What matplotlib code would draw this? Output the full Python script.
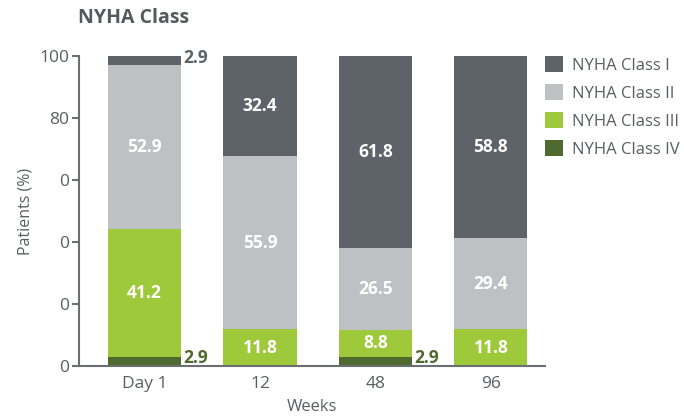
import matplotlib.pyplot as plt
import numpy as np

plt.rcParams['font.family'] = ['Open Sans', 'DejaVu Sans']

# NYHA class distribution per visit (% of patients)
visits = ["Day 1", "12", "48", "96"]
class_iv = [2.9, 0.0, 2.9, 0.0]
class_iii = [41.2, 11.8, 8.8, 11.8]
class_ii = [52.9, 55.9, 26.5, 29.4]
class_i = [2.9, 32.4, 61.8, 58.8]
ytick_vals = [0, 20, 40, 60, 80, 100]
ytick_text = ["0", "0", "0", "0", "80", "100"]

col_i = "#5e6269"
col_ii = "#bfc0c4"
col_iii = "#9dc93b"
col_iv = "#4f6a2e"
txt = "#5a5d62"

fig = plt.figure(figsize=(6.84, 4.18), dpi=100)
ax = fig.add_axes([0.1155, 0.1244, 0.6815, 0.7416])

x = np.arange(len(visits))
w = 0.633
series = [("NYHA Class I", class_i, col_i),
          ("NYHA Class II", class_ii, col_ii),
          ("NYHA Class III", class_iii, col_iii),
          ("NYHA Class IV", class_iv, col_iv)]

# stack from class IV at the bottom up to class I
bottom = np.zeros(len(visits))
stacks = {}
for name, vals, c in reversed(series):
    vals = np.array(vals)
    ax.bar(x, vals, w, bottom=bottom, color=c, label=name, linewidth=0)
    stacks[name] = (vals, bottom.copy())
    bottom += vals

# white value labels inside the larger segments
for name in ["NYHA Class I", "NYHA Class II", "NYHA Class III"]:
    vals, bot = stacks[name]
    for xi, v, b in zip(x, vals, bot):
        if v > 5:
            ax.text(xi, b + v / 2, f"{v:.1f}", ha="center", va="center",
                    color="white", fontsize=12.5, fontweight="bold")

# small segments labelled beside the bar
for name, c in [("NYHA Class I", col_i), ("NYHA Class IV", col_iv)]:
    vals, bot = stacks[name]
    for xi, v, b in zip(x, vals, bot):
        if 0 < v <= 5:
            ax.text(xi + w / 2 + 0.02, b + v / 2 + 1.0, f"{v:.1f}", ha="left",
                    va="center", color=c, fontsize=12.5, fontweight="bold")

ax.set_xlim(-0.568, 3.47)
ax.set_ylim(0, 100)
ax.set_xticks(x)
ax.set_xticklabels(visits)
ax.set_yticks(ytick_vals)
ax.set_yticklabels(ytick_text)
ax.tick_params(axis="y", length=5, width=1.5, color="#6b6e73", labelsize=12.5,
               labelcolor=txt, pad=2)
ax.tick_params(axis="x", length=0, labelsize=12.5, labelcolor=txt, pad=7)
for s in ["top", "right"]:
    ax.spines[s].set_visible(False)
for s in ["left", "bottom"]:
    ax.spines[s].set_color("#6b6e73")
    ax.spines[s].set_linewidth(1.5)

ax.set_ylabel("Patients (%)", fontsize=11.5, color=txt, labelpad=4)
ax.set_xlabel("Weeks", fontsize=12, color=txt, labelpad=5)
fig.text(0.114, 0.957, "NYHA Class", fontsize=14, fontweight="bold",
         color="#55585d", ha="left", va="center")

handles, labels = ax.get_legend_handles_labels()
order = [labels.index(s[0]) for s in series]
leg = ax.legend([handles[i] for i in order], [labels[i] for i in order],
                loc="upper left", bbox_to_anchor=(1.0, 1.0), frameon=False,
                fontsize=12, labelcolor=txt, handlelength=1.08,
                handleheight=1.08, handletextpad=0.55, labelspacing=0.63,
                borderaxespad=0.0, borderpad=0.0)

fig.savefig("out.png", dpi=100)
